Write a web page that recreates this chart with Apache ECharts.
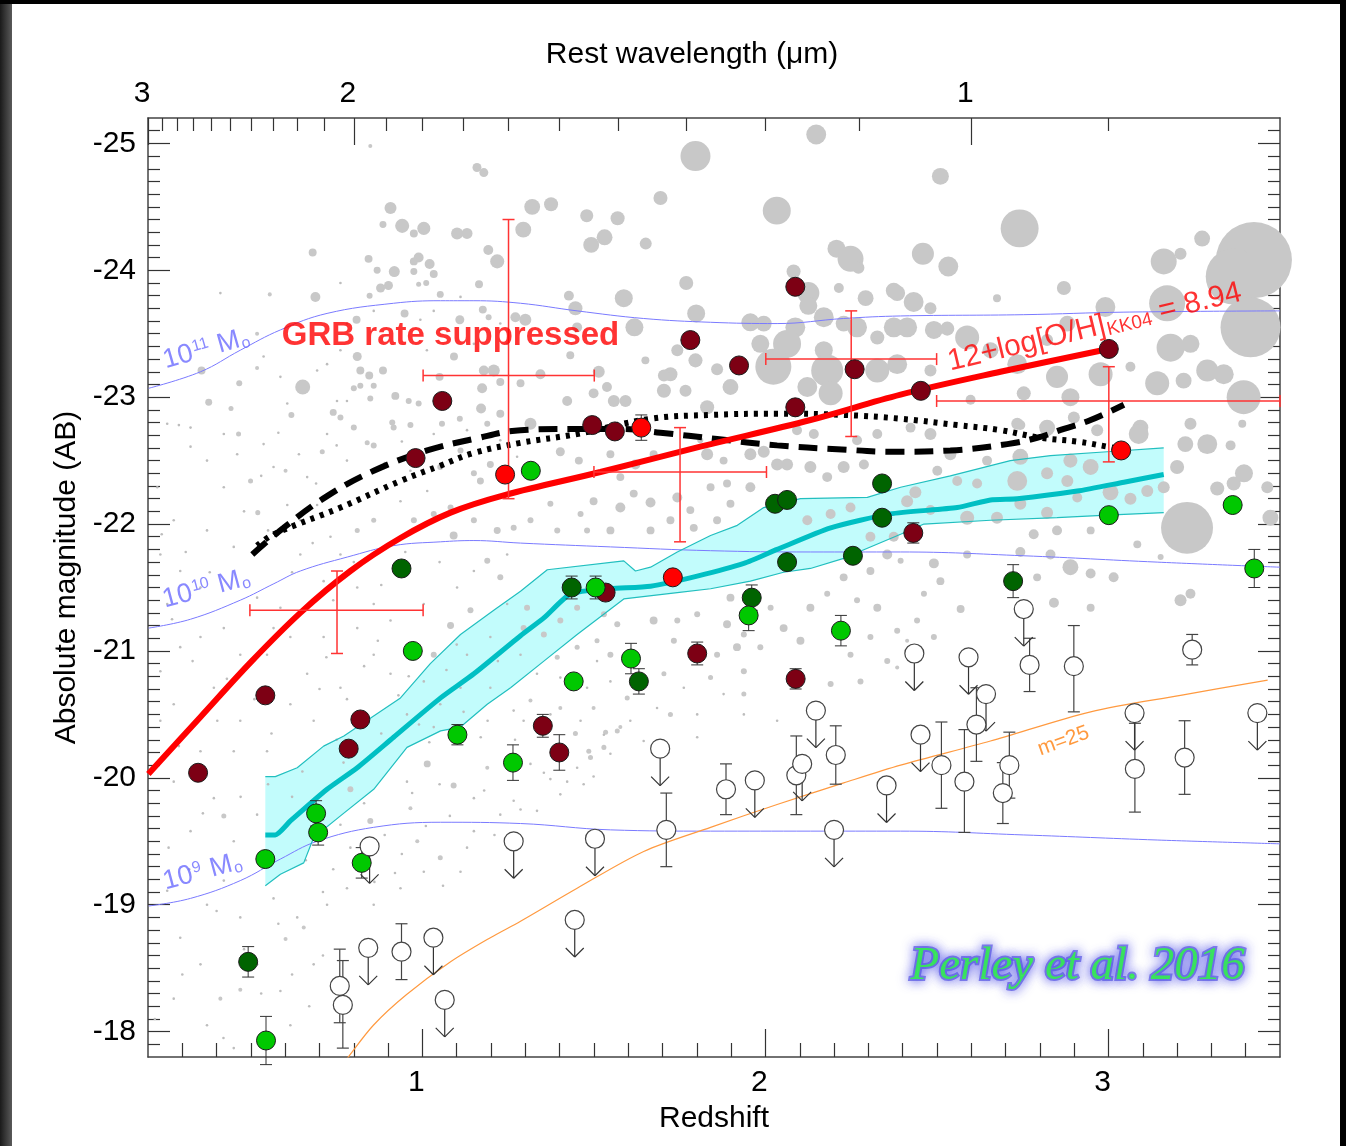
<!DOCTYPE html>
<html>
<head>
<meta charset="utf-8">
<script src="https://cdn.jsdelivr.net/npm/echarts@6/dist/echarts.min.js"></script>
<style>
html,body{margin:0;padding:0;background:#000;width:1346px;height:1146px;overflow:hidden}
#panel{position:absolute;left:12px;top:4px;width:1328px;height:1142px;background:#fff}
#edge{position:absolute;left:0;top:4px;width:12px;height:1142px;background:linear-gradient(to right,#1a1a1a,#5a5a5a)}
#chart{position:absolute;left:0;top:0;width:1346px;height:1146px}
</style>
</head>
<body>
<div id="panel"></div><div id="edge"></div><div id="chart"></div>
<script>
// ---- axes ----
const zRange = [0.2, 3.5];
const magRange = [-25.2, -17.8];
const redshiftTicks = [1, 2, 3];
const redshiftMinorTicks = [0.3,0.4,0.5,0.6,0.7,0.8,0.9,1.1,1.2,1.3,1.4,1.5,1.6,1.7,1.8,1.9,2.1,2.2,2.3,2.4,2.5,2.6,2.7,2.8,2.9,3.1,3.2,3.3,3.4];
const magTicks = [-25, -24, -23, -22, -21, -20, -19, -18];
const observedWavelength = 3.6; // micron, observed band
const restWavelengthTicks = [3, 2, 1];
const restWavelengthMinorTicks = [2.9,2.8,2.7,2.6,2.5,2.4,2.3,2.2,2.1,1.9,1.8,1.7,1.6,1.5,1.4,1.3,1.2,1.1,0.9];

// ---- GRB hosts: [redshift, abs mag, mag error] ----
const hostsDarkRed = [[0.346,-20.04,0],[0.542,-20.65,0],[0.819,-20.46,0],[0.785,-20.23,0],[0.980,-22.52,0],[1.058,-22.97,0],[1.495,-22.78,0],[1.561,-22.73,0],[1.781,-23.45,0],[1.923,-23.25,0],[2.087,-23.87,0],[2.260,-23.22,0],[2.087,-22.92,0],[3.001,-23.38,0],[2.453,-23.05,0],[1.534,-21.46,0],[1.801,-20.98,0.09],[2.088,-20.78,0.08],[1.351,-20.41,0.09],[2.431,-21.93,0.08],[1.399,-20.20,0.14]];
const hostsRed = [[1.241,-22.39,0],[1.638,-22.76,0.1],[1.730,-21.58,0],[3.037,-22.58,0]];
const hostsDarkGreen = [[0.939,-21.65,0],[1.435,-21.50,0.09],[1.960,-21.42,0.1],[2.028,-22.16,0],[2.063,-22.19,0],[2.063,-21.70,0],[2.340,-22.32,0],[2.340,-22.05,0],[2.255,-21.75,0],[1.631,-20.76,0.1],[2.722,-21.55,0.13],[0.492,-18.55,0.12]];
const hostsGreen = [[1.316,-22.42,0],[1.505,-21.50,0.09],[1.951,-21.28,0.12],[2.220,-21.16,0.12],[1.608,-20.94,0.12],[1.441,-20.76,0],[0.972,-21.00,0],[1.102,-20.34,0.08],[1.264,-20.12,0.14],[3.001,-22.07,0],[3.362,-22.15,0],[3.425,-21.65,0.15],[0.542,-19.36,0],[0.690,-19.72,0.1],[0.696,-19.57,0.1],[0.823,-19.33,0.12],[0.544,-17.93,0.19]];
// faint hosts: detections [z, mag, err bright, err faint] and upper limits [z, mag]
const hostsOpen = [[0.759,-18.36,0.29,0.29],[0.768,-18.21,0.35,0.34],[0.939,-18.63,0.22,0.22],[1.711,-19.59,0.29,0.29],[1.885,-19.91,0.2,0.2],[2.090,-20.02,0.31,0.31],[2.205,-20.18,0.23,0.23],[2.513,-20.10,0.34,0.34],[2.580,-19.97,0.41,0.40],[2.711,-20.10,0.26,0.26],[2.692,-19.88,0.24,0.24],[2.770,-20.89,0.21,0.21],[2.899,-20.88,0.32,0.36],[3.244,-21.01,0.12,0.12],[3.077,-20.07,0.36,0.34],[3.222,-20.16,0.29,0.29],[2.615,-20.42,0.29,0.29]];
const hostsLimits = [[0.846,-19.46],[0.842,-18.66],[1.032,-18.74],[1.065,-18.25],[1.266,-19.50],[1.693,-20.23],[1.503,-19.52],[1.444,-18.88],[1.969,-19.98],[2.107,-20.11],[2.147,-20.53],[2.353,-19.94],[2.200,-19.59],[2.753,-21.33],[2.434,-20.98],[2.592,-20.95],[2.643,-20.66],[2.452,-20.34],[3.076,-20.51],[3.434,-20.51]];
// binned medians: [z, zlo, zhi, mag, maglo, maghi]
const binnedCrosses = [[0.751,0.497,1.002,-21.32,-21.63,-20.98],[1.251,1.002,1.501,-23.17,-24.40,-22.20],[1.751,1.500,2.003,-22.41,-22.76,-21.86],[2.250,2.001,2.499,-23.30,-23.68,-22.69],[3.001,2.499,3.500,-22.97,-23.24,-22.49]];

// ---- model curves: [z, mag] ----
const metallicityCut = [[0.201,-20.03],[0.353,-20.48],[0.499,-20.91],[0.644,-21.30],[0.790,-21.63],[0.936,-21.89],[1.082,-22.09],[1.242,-22.23],[1.519,-22.41],[1.810,-22.61],[2.131,-22.82],[2.394,-23.02],[2.685,-23.20],[3.000,-23.38]];
const modelDashed = [[0.504,-21.76],[0.595,-21.97],[0.722,-22.22],[0.858,-22.42],[1.014,-22.58],[1.149,-22.67],[1.286,-22.74],[1.432,-22.75],[1.577,-22.75],[1.694,-22.72],[1.859,-22.67],[2.034,-22.62],[2.209,-22.59],[2.374,-22.57],[2.539,-22.58],[2.705,-22.63],[2.792,-22.68],[2.870,-22.75],[2.948,-22.82],[3.045,-22.94]];
const modelDotted = [[0.518,-21.83],[0.567,-21.92],[0.761,-22.13],[0.936,-22.34],[1.052,-22.46],[1.149,-22.56],[1.286,-22.64],[1.451,-22.71],[1.665,-22.83],[1.840,-22.86],[2.034,-22.87],[2.228,-22.86],[2.394,-22.83],[2.559,-22.78],[2.685,-22.74],[2.802,-22.68],[2.909,-22.65],[2.996,-22.61],[3.055,-22.58]];
const fieldMedian = [[0.542,-19.55],[0.571,-19.55],[0.615,-19.66],[0.722,-19.91],[0.810,-20.08],[0.916,-20.32],[1.053,-20.63],[1.150,-20.82],[1.286,-21.12],[1.354,-21.26],[1.432,-21.45],[1.548,-21.49],[1.665,-21.51],[1.801,-21.59],[1.937,-21.69],[2.034,-21.80],[2.190,-21.97],[2.364,-22.08],[2.559,-22.13],[2.656,-22.19],[2.734,-22.20],[2.909,-22.26],[3.045,-22.33],[3.161,-22.39]];
const fieldUpper = [[0.542,-20.01],[0.571,-20.01],[0.635,-20.08],[0.712,-20.25],[0.771,-20.33],[0.936,-20.63],[1.023,-20.90],[1.111,-21.13],[1.208,-21.32],[1.286,-21.47],[1.364,-21.64],[1.587,-21.71],[1.621,-21.63],[1.665,-21.66],[1.743,-21.78],[1.840,-21.91],[1.918,-21.99],[1.995,-22.13],[2.102,-22.20],[2.297,-22.21],[2.394,-22.29],[2.539,-22.38],[2.714,-22.50],[2.831,-22.54],[2.996,-22.57],[3.161,-22.60]];
const fieldLower = [[0.542,-19.15],[0.586,-19.24],[0.654,-19.33],[0.683,-19.53],[0.761,-19.70],[0.858,-19.91],[0.955,-20.24],[1.053,-20.37],[1.111,-20.40],[1.189,-20.58],[1.257,-20.71],[1.354,-20.92],[1.451,-21.13],[1.587,-21.41],[1.743,-21.46],[1.840,-21.49],[1.956,-21.55],[2.053,-21.62],[2.131,-21.65],[2.228,-21.73],[2.394,-21.92],[2.462,-22.00],[2.656,-22.03],[2.850,-22.05],[2.996,-22.07],[3.161,-22.09]];
const mass1e11 = [[0.202,-23.07],[0.353,-23.20],[0.469,-23.37],[0.586,-23.53],[0.722,-23.66],[0.916,-23.74],[1.053,-23.76],[1.150,-23.76],[1.286,-23.74],[1.451,-23.68],[1.645,-23.62],[1.840,-23.59],[2.034,-23.58],[2.228,-23.62],[2.394,-23.64],[2.753,-23.65],[3.045,-23.67],[3.500,-23.68]];
const mass1e10 = [[0.202,-21.18],[0.324,-21.25],[0.469,-21.40],[0.567,-21.53],[0.644,-21.63],[0.781,-21.74],[0.916,-21.83],[1.053,-21.86],[1.150,-21.87],[1.286,-21.85],[1.548,-21.82],[1.840,-21.79],[2.131,-21.78],[2.394,-21.78],[2.753,-21.75],[3.142,-21.70],[3.500,-21.66]];
const mass1e9 = [[0.202,-18.99],[0.324,-19.05],[0.469,-19.19],[0.586,-19.36],[0.693,-19.50],[0.858,-19.61],[1.053,-19.65],[1.286,-19.64],[1.548,-19.59],[1.840,-19.58],[2.131,-19.58],[2.394,-19.58],[2.753,-19.55],[3.142,-19.51],[3.500,-19.48]];
const apparentLimit = [[0.761,-17.72],[0.781,-17.79],[0.857,-18.05],[0.953,-18.29],[1.082,-18.55],[1.198,-18.74],[1.286,-18.87],[1.451,-19.13],[1.645,-19.42],[1.840,-19.61],[2.034,-19.79],[2.228,-19.96],[2.394,-20.10],[2.656,-20.29],[2.948,-20.52],[3.210,-20.65],[3.464,-20.77]];

// ---- field galaxies: [z, mag, sfr weight] and faint field [z, mag] ----
const fieldBright = [
[1.796,-24.90,100],[2.148,-25.07,44],[2.033,-24.47,87],[1.694,-24.57,22],[1.320,-24.50,28],[1.375,-24.52,22],[1.294,-24.32,28],[1.479,-24.43,19],[1.569,-24.41,22],[1.531,-24.26,28],[1.492,-24.20,28],[1.651,-24.21,16],[2.207,-24.17,36],[2.248,-24.09,75],[2.271,-24.02,16],[2.082,-23.99,22],[2.214,-23.86,11],[2.374,-23.84,28],[2.292,-23.78,28],[2.125,-23.82,54],[2.125,-23.72,36],[1.769,-23.90,22],[1.587,-23.78,36],[1.446,-23.70,22],[1.798,-23.66,36],[1.618,-23.55,36],[1.427,-23.80,11],[1.956,-23.59,36],[1.995,-23.58,28],[2.087,-23.55,44],[2.063,-23.42,87],[2.170,-23.63,44],[2.228,-23.58,28],[2.267,-23.55,44],[2.326,-23.47,22],[2.374,-23.55,44],[1.985,-23.42,36],[2.023,-23.24,144],[2.170,-23.37,36],[2.180,-23.21,114],[2.190,-23.03,64],[2.326,-23.21,64],[2.122,-23.08,44],[1.898,-23.08,28],[1.859,-23.22,16],[1.796,-23.29,22],[1.743,-23.37,16],[1.723,-23.18,22],[1.704,-23.05,22],[1.767,-23.05,16],[1.830,-22.92,22],[1.271,-23.63,11],[1.300,-23.61,16],[1.451,-23.55,11],[1.344,-23.18,11],[1.286,-23.11,7],[1.422,-22.97,11],[1.499,-23.03,11],[1.538,-23.08,11],[1.558,-22.97,16],[1.592,-22.97,16],[1.514,-23.20,16],[1.315,-22.79,16],[1.704,-23.17,16],[1.650,-23.29,7],[1.431,-23.33,7],
[2.510,-24.74,32],[2.741,-24.33,160],[2.459,-24.13,54],[2.533,-24.03,44],[2.870,-23.86,22],[2.675,-23.78,7],[3.273,-24.25,28],[3.161,-24.07,75],[3.424,-24.08,642],[3.365,-23.95,348],[3.414,-23.55,400],[3.394,-23.00,128],[3.210,-24.13,16],[2.991,-23.71,44],[3.171,-23.74,144],[2.384,-23.82,28],[2.432,-23.75,44],[2.481,-23.70,16],[2.588,-23.47,64],[2.491,-23.53,36],[2.530,-23.54,22],[2.413,-23.55,44],[2.656,-23.37,28],[2.734,-23.26,44],[2.821,-23.45,16],[2.880,-23.58,28],[2.977,-23.18,64],[2.850,-23.16,54],[3.064,-23.24,11],[3.181,-23.39,87],[3.239,-23.42,36],[3.288,-23.21,54],[3.142,-23.11,64],[3.219,-23.13,28],[3.336,-23.18,44],[2.889,-23.00,36],[2.753,-23.03,22],[2.598,-22.98,11],[2.481,-23.21,16],[2.384,-23.26,44],[2.899,-22.84,16],[2.821,-22.76,28],[2.734,-22.79,16],[3.093,-22.76,28],[3.239,-22.79,16],
[1.159,-24.81,9],[1.179,-24.77,9],[0.907,-24.49,16],[0.885,-24.36,5.4],[0.941,-24.35,22],[1.004,-24.33,19],[0.975,-24.29,7],[1.101,-24.29,16],[1.130,-24.29,13.4],[0.680,-24.14,7],[0.843,-24.09,7],[0.989,-24.10,11],[1.021,-24.05,11],[1.033,-23.97,7],[0.975,-24.07,7],[1.192,-24.16,11],[1.218,-24.07,22],[0.868,-24.00,5.4],[0.918,-23.99,13.4],[0.878,-23.86,9],[0.901,-23.88,9],[1.165,-23.89,7],[0.688,-23.79,11],[1.052,-23.81,5.4],[1.176,-23.69,7],[0.948,-23.66,7],[1.109,-23.61,9],[0.808,-23.61,7],[0.356,-23.21,7],[0.377,-22.96,5.4],[0.651,-23.08,25],[0.810,-23.32,9],[0.819,-23.21,7],[0.845,-23.17,7],[0.885,-23.21,7],[0.921,-23.01,7],[1.050,-23.16,7],[1.092,-23.32,7],[1.179,-23.21,11],[1.208,-23.21,16],[1.174,-23.07,11],[1.227,-23.12,7],[1.171,-22.91,11],[1.227,-22.87,7],[0.740,-22.88,5.4],[1.057,-22.79,4],[1.109,-22.83,4],[1.189,-22.79,4],[0.912,-22.80,4],[0.965,-22.78,4],
[0.848,-24.98,1.8],[0.800,-23.07,4],[0.819,-23.09,4],[0.858,-23.09,4],[0.848,-22.99,4],[0.960,-22.97,4],[0.989,-22.95,4],[0.618,-22.86,4],[0.761,-22.84,4],[0.442,-22.91,2.8],[0.466,-23.11,4],[0.518,-23.50,1.8],[0.555,-23.81,1.8],[0.518,-23.23,1.8],[0.846,-23.80,4],[0.989,-23.89,2.8],[1.011,-23.90,4],[0.975,-23.99,5.4],[0.800,-22.76,4],[1.193,-23.63,4],
[0.464,-22.71,2.8],[0.601,-22.42,1.8],[0.499,-22.34,2.8],[0.520,-22.09,2.8],[0.858,-22.62,4],[0.916,-22.76,4],[1.169,-22.34,5.4],[1.198,-22.47,5.4],[1.150,-22.03,4],[1.091,-21.91,7],[1.218,-21.95,5.4],[1.082,-22.13,4],[1.033,-22.08,4],[0.975,-22.03,4],[0.858,-22.03,2.8],[0.810,-21.95,2.8],[1.052,-22.45,4],[1.111,-22.58,4],[1.150,-22.40,4],[0.708,-22.57,2.8],[0.839,-22.64,2.8],[1.082,-21.20,5.4],[1.033,-20.97,4],[1.140,-21.32,4],[1.189,-21.71,4],[1.227,-21.58,4],[1.266,-21.97,4],
[1.402,-22.57,9],[1.456,-22.50,7],[1.548,-22.55,7],[1.621,-22.47,11],[1.577,-22.37,7],[1.674,-22.55,7],[1.830,-22.55,16],[1.878,-22.50,7],[1.956,-22.55,16],[1.995,-22.57,16],[2.034,-22.47,16],[2.063,-22.47,16],[2.131,-22.45,16],[2.180,-22.37,11],[2.228,-22.45,16],[2.287,-22.47,11],[2.326,-22.71,11],[2.267,-22.66,11],[2.141,-22.71,11],[2.092,-22.74,11],[1.810,-22.66,4],[1.665,-22.17,11],[1.743,-22.21,11],[1.781,-22.11,7],[1.840,-22.29,7],[1.888,-22.32,7],[1.956,-22.29,11],[1.898,-22.16,7],[1.859,-22.03,7],[1.791,-21.97,7],[1.723,-22.03,7],[1.665,-21.95,7],[1.616,-22.24,7],[1.577,-22.13,11],[1.499,-22.18,7],[1.461,-22.08,4],[1.373,-22.16,4],[1.315,-22.03,4],[1.393,-21.95,4],[1.548,-21.95,7],[1.480,-21.95,4],[2.122,-22.03,11],[2.190,-22.08,11],[2.248,-22.13,11],[2.306,-21.90,11],[2.374,-21.90,11],[2.355,-21.76,11],[2.228,-21.58,7],[2.306,-21.63,7],[2.131,-21.34,7],[2.180,-21.45,4],[2.267,-21.40,4],[2.326,-21.34,7],[2.015,-21.34,4],[2.053,-21.18,7],[2.102,-21.08,7],[1.985,-21.03,4],[1.917,-21.03,7],[1.937,-21.13,4],[1.888,-21.21,7],[1.898,-21.42,7],[1.801,-21.29,4],[1.743,-21.24,4],[1.674,-21.24,7],[1.568,-21.21,4],[1.529,-21.29,4],[1.451,-21.34,4],[1.402,-21.24,4],[1.354,-21.13,4],[1.305,-21.34,4],[1.295,-21.18,4],[1.733,-21.08,4],[1.859,-20.97,4],[1.937,-20.84,4],[2.248,-20.97,4],[2.306,-21.11,4],[2.355,-20.92,4],[2.190,-20.74,4],[2.277,-20.76,4],[1.548,-20.97,4],[1.509,-21.08,2.8],[1.451,-21.03,2.8],[1.393,-20.95,2.8],[1.704,-20.82,2.8],[1.840,-20.79,2.8],[1.937,-20.66,2.8],[1.597,-20.63,2.8],[1.723,-20.50,2.8],[1.499,-20.55,1.8],[1.402,-20.55,1.8],[1.315,-20.61,1.8],[1.577,-20.40,1.8],
[3.229,-21.97,300],[3.288,-22.63,44],[3.224,-22.63,28],[3.200,-22.45,22],[3.317,-22.28,22],[3.365,-22.32,22],[3.395,-22.40,36],[3.472,-22.05,28],[3.463,-22.29,16],[3.390,-22.79,7],[3.356,-22.62,11],[3.210,-21.40,16],[3.239,-21.45,11],[3.152,-21.74,4],[3.088,-22.71,44],[2.967,-22.74,16],[2.821,-22.74,16],[2.743,-22.78,11],[2.423,-22.76,11],[2.481,-22.71,16],[2.539,-22.55,16],[2.646,-22.50,11],[2.743,-22.53,28],[2.821,-22.40,16],[2.889,-22.50,22],[2.948,-22.45,28],[2.880,-22.34,16],[2.909,-22.21,11],[3.006,-22.25,28],[3.064,-22.20,16],[3.113,-22.26,16],[3.161,-22.29,16],[2.821,-22.09,16],[2.743,-22.16,16],[2.734,-22.34,44],[2.617,-22.32,11],[2.559,-22.34,11],[2.588,-22.05,22],[2.481,-22.11,11],[2.437,-22.25,16],[2.413,-22.18,16],[2.501,-22.42,11],[2.675,-22.05,16],[2.782,-21.92,11],[2.850,-21.95,11],[2.948,-21.95,7],[2.743,-21.78,11],[2.831,-21.76,11],[2.889,-21.66,28],[2.948,-21.61,11],[3.015,-21.58,11],[2.792,-21.58,7],[2.588,-21.76,7],[2.491,-21.69,11],[2.510,-21.55,7],[2.394,-21.71,4],[2.462,-21.45,4],[2.569,-21.33,7],[2.841,-21.38,11],[2.948,-21.34,7],[3.084,-21.84,7],[2.384,-21.16,4],[2.413,-21.08,1.8],[2.491,-21.11,4],[2.442,-21.24,4],[2.384,-20.87,1.8],
[0.421,-19.70,2.8],[0.601,-18.73,1.8],[0.411,-18.26,1.8],[0.469,-18.33,1.8],[0.790,-19.91,4],[0.848,-19.66,4],[0.965,-19.76,1.8],[1.014,-20.11,5.4],[1.091,-19.94,4],[1.189,-20.08,1.8],[0.985,-19.50,1.8],[1.052,-19.37,2.8],[0.654,-18.82,1.8],
[1.485,-20.21,2.8],[1.490,-20.16,2.8],[1.529,-20.24,2.8],[1.446,-20.35,2.8],[1.534,-20.36,2.8],[1.568,-20.37,2.8]
];
const fieldFaint = [
[0.324,-22.61],[0.372,-22.50],[0.421,-22.29],[0.275,-22.03],[0.372,-21.95],[0.450,-21.82],[0.294,-21.63],[0.353,-21.50],[0.421,-21.18],[0.294,-21.03],[0.469,-20.97],[0.392,-20.71],[0.275,-20.58],[0.469,-20.45],[0.615,-20.58],[0.664,-20.82],[0.615,-21.11],[0.566,-21.18],[0.712,-21.11],[0.810,-21.18],[0.858,-20.97],[0.761,-20.71],[0.683,-20.45],[0.839,-20.50],[0.907,-20.82],[1.004,-20.76],[1.052,-20.58],[0.955,-20.50],[0.858,-21.37],[0.907,-21.24],[0.810,-21.50],[0.712,-21.55],[0.644,-21.76],[0.761,-21.76],[0.858,-21.76],[1.004,-21.37],[1.101,-21.50],[1.150,-21.63],[1.247,-21.76],[1.198,-21.11],[1.247,-21.37],[1.130,-20.97],[1.198,-20.71],[1.266,-20.53],[1.111,-20.71],[1.033,-20.40],[0.227,-22.29],[0.236,-21.76],[0.256,-21.37],[0.236,-20.84],[0.236,-20.45],[0.353,-21.11],[0.518,-21.42],[0.586,-21.34],[0.547,-20.97],[0.402,-20.45],[0.566,-22.45],[0.664,-22.37],[0.722,-22.71],[0.537,-22.63],[0.421,-22.71],[0.324,-22.76],
[0.275,-19.97],[0.324,-19.58],[0.256,-19.11],[0.372,-19.00],[0.469,-18.90],[0.294,-18.74],[0.353,-18.53],[0.275,-18.26],[0.372,-18.05],[0.450,-17.87],[0.518,-18.53],[0.586,-18.32],[0.615,-18.05],[0.683,-18.53],[0.566,-19.05],[0.635,-18.90],[0.722,-19.00],[0.780,-19.13],[0.858,-19.00],[0.936,-19.13],[0.421,-19.19],[0.450,-19.50],[0.518,-19.71],[0.392,-19.84],[0.353,-20.21],[0.450,-20.21],[0.547,-20.21],[0.955,-19.97],[1.150,-19.84],[1.227,-19.71],[1.150,-19.58],[1.111,-19.26],[1.004,-19.26],[0.761,-19.63],
[1.286,-20.97],[1.334,-20.82],[1.402,-20.79],[1.480,-20.71],[1.548,-20.76],[1.509,-20.92],[1.373,-20.50],[1.461,-20.45],[1.529,-20.34],[1.295,-20.45],[1.645,-20.71],[1.684,-20.55],[1.762,-20.71],[1.801,-20.50],[1.878,-20.66],[1.937,-20.50],[2.034,-20.45],[1.606,-20.45],
[1.315,-20.11],[1.354,-20.04],[1.451,-20.08],[1.548,-20.19],[1.373,-19.99],[1.422,-19.97],[1.470,-19.95],[1.499,-20.01],[1.402,-19.87],[1.334,-19.74],[1.286,-19.75],[1.801,-20.32],[1.645,-20.29],[1.266,-19.82],
[0.411,-23.82],[0.290,-22.78],[0.256,-22.79],[0.751,-22.97],[0.780,-22.97],[0.606,-22.95],[0.537,-23.32],[0.586,-23.16],[0.693,-23.21],[0.722,-23.26],[0.761,-23.37],[0.780,-23.58],[0.858,-23.68],[0.761,-23.90],[1.033,-23.68],[1.052,-23.53],[1.013,-23.37],[1.150,-23.42],[1.247,-23.42],[1.227,-23.58],[1.111,-23.79],[0.994,-23.61],
[1.033,-22.71],[1.130,-22.74],[1.227,-22.66],[1.276,-22.53],[1.014,-22.26],[0.965,-22.42],[0.936,-22.18],[0.780,-22.50],[0.693,-22.15],[0.644,-22.03],[0.606,-22.15],[0.732,-21.90],
[0.72,-20.95],[0.78,-20.62],[0.83,-20.88],[0.88,-20.35],[0.93,-20.65],[0.98,-20.98],[1.02,-20.28],[1.07,-20.85],[1.12,-20.52],[1.17,-20.32],[1.22,-20.92],[1.27,-20.30],[0.75,-20.30],[0.87,-21.08],[0.99,-20.42],[1.10,-21.05],[1.19,-20.45],[0.70,-20.70],[0.81,-20.25],[0.96,-20.80],
[0.62,-19.85],[0.66,-19.35],[0.74,-19.28],[0.79,-19.45],[0.83,-19.80],[0.89,-19.55],[0.92,-19.25],[0.97,-19.88],[1.01,-19.62],[1.05,-19.95],[1.08,-19.70],[1.13,-19.45],[1.18,-19.90],[1.21,-19.55],[0.71,-19.10],[0.86,-19.18],[0.94,-19.40],[1.06,-19.15],[0.65,-20.05],[0.77,-20.12],
[0.24,-21.92],[0.31,-21.78],[0.38,-21.62],[0.27,-21.25],[0.33,-20.92],[0.43,-20.78],[0.51,-20.62],[0.56,-20.35],[0.29,-20.25],[0.36,-19.72],[0.47,-19.85],[0.55,-19.95],[0.26,-19.45],[0.32,-19.28],[0.40,-18.95],[0.48,-18.65],[0.53,-18.30],[0.58,-18.85],[0.30,-18.45],[0.22,-18.10],[0.42,-17.95],[0.62,-18.45],[0.67,-18.20],[0.71,-18.60],
[0.46,-22.55],[0.53,-22.38],[0.58,-22.72],[0.64,-22.55],[0.69,-22.32],[0.75,-22.62],[0.82,-22.38],[0.89,-22.48],[0.94,-22.65],[0.48,-22.10],[0.55,-21.95],[0.62,-21.62],[0.68,-21.85],[0.74,-21.40],[0.80,-21.70],[0.88,-21.52],[0.95,-21.78],[1.05,-21.70]
];

// ---- annotations: [z, mag] anchor of each label ----
const noteMass11 = [0.370, -23.38];
const noteMass10 = [0.370, -21.49];
const noteMass9 = [0.359, -19.26];
const noteSuppressed = [1.082, -23.48];
const noteMetallicity = [2.960, -23.55];
const noteApparent = [2.869, -20.29];
const noteCredit = [2.910, -18.51];

// ---------------------------------------------------------------
const FONT = '"Liberation Sans", Arial, Helvetica, sans-serif';
const axisText = { color: '#000', fontSize: 30, fontFamily: FONT };
const frameLine = { show: true, onZero: false, lineStyle: { color: '#444', width: 1.5 } };
const tickLine = { color: '#333', width: 1.2 };
const zAt = (lam) => Math.round((observedWavelength / lam - 1) * 1e9) / 1e9;

function xAx(o) { return Object.assign({ type: 'value', min: zRange[0], max: zRange[1], splitLine: { show: false }, axisLine: { show: false } }, o); }
function yAx(o) { return Object.assign({ type: 'value', inverse: true, min: magRange[0], max: magRange[1], splitLine: { show: false }, axisLine: { show: false } }, o); }

const magMinor = [];
for (let k = -251; k <= -179; k++) { if (k % 10 !== 0) magMinor.push(k / 10); }

const xAxes = [
  xAx({ position: 'bottom', axisLine: frameLine,
        axisTick: { show: true, inside: true, length: 28, customValues: redshiftTicks, lineStyle: tickLine },
        axisLabel: Object.assign({ show: true, margin: 11, padding: [0, 12, 0, 0], customValues: redshiftTicks, formatter: v => String(v) }, axisText),
        name: 'Redshift', nameLocation: 'middle', nameGap: 47, nameTextStyle: axisText }),
  xAx({ position: 'bottom', axisTick: { show: true, inside: true, length: 14, customValues: redshiftMinorTicks, lineStyle: tickLine }, axisLabel: { show: false } }),
  xAx({ position: 'top', axisLine: frameLine,
        axisTick: { show: true, inside: true, length: 27, customValues: restWavelengthTicks.map(zAt), lineStyle: tickLine },
        axisLabel: Object.assign({ show: true, margin: 9, padding: [0, 12, 0, 0], showMinLabel: true, customValues: restWavelengthTicks.map(zAt), formatter: v => String(Math.round(observedWavelength / (1 + v))) }, axisText),
        name: 'Rest wavelength (\u03bcm)', nameLocation: 'middle', nameGap: 48, nameTextStyle: Object.assign({ padding: [0, 44, 0, 0] }, axisText) }),
  xAx({ position: 'top', axisTick: { show: true, inside: true, length: 13, customValues: restWavelengthMinorTicks.map(zAt), lineStyle: tickLine }, axisLabel: { show: false } })
];
const yAxes = [
  yAx({ position: 'left', axisLine: frameLine,
        axisTick: { show: true, inside: true, length: 22, customValues: magTicks, lineStyle: tickLine },
        axisLabel: Object.assign({ show: true, margin: 12, customValues: magTicks, formatter: v => String(v) }, axisText),
        name: 'Absolute magnitude (AB)', nameLocation: 'middle', nameRotate: 90, nameGap: 66, nameTextStyle: Object.assign({ padding: [0, 0, 0, 20] }, axisText) }),
  yAx({ position: 'left', axisTick: { show: true, inside: true, length: 12, customValues: magMinor, lineStyle: tickLine }, axisLabel: { show: false } }),
  yAx({ position: 'right', axisLine: frameLine, axisTick: { show: true, inside: true, length: 22, customValues: magTicks, lineStyle: tickLine }, axisLabel: { show: false } }),
  yAx({ position: 'right', axisTick: { show: true, inside: true, length: 12, customValues: magMinor, lineStyle: tickLine }, axisLabel: { show: false } })
];

function seg(x1, y1, x2, y2, color, w) {
  return { type: 'line', shape: { x1, y1, x2, y2 }, style: { stroke: color, lineWidth: w } };
}

// vertical error bar with caps
function errBar(api, z, up, down, color, w, cap) {
  const t = api.coord([z, up]), b = api.coord([z, down]);
  return [seg(t[0], t[1], b[0], b[1], color, w), seg(t[0] - cap, t[1], t[0] + cap, t[1], color, w), seg(b[0] - cap, b[1], b[0] + cap, b[1], color, w)];
}

function line(data, color, width, extra) {
  return Object.assign({ type: 'line', data, showSymbol: false, symbol: 'none', silent: true, animation: false,
    lineStyle: { color, width }, xAxisIndex: 0, yAxisIndex: 0 }, extra || {});
}

function hosts(data, color) {
  return { type: 'scatter', data, symbolSize: 19, silent: true, z: 8,
    itemStyle: { color, opacity: 1, borderColor: '#1a1a1a', borderWidth: 1 } };
}

const blueText = '#6b6bff';
function massNote(pos, exp, rot) {
  return { value: pos, label: { show: true, position: 'inside', rotate: rot,
    formatter: '{n|10}{s|' + exp + '}{n| M}{o|o}',
    rich: { n: { fontSize: 27, color: blueText, fontFamily: FONT },
            s: { fontSize: 16, color: blueText, fontFamily: FONT, verticalAlign: 'top', padding: [0, 1, 10, 1] },
            o: { fontSize: 16, color: blueText, fontFamily: FONT, verticalAlign: 'bottom', padding: [7, 0, 0, 1] } } } };
}

const notes = [
  massNote(noteMass11, '11', 16),
  massNote(noteMass10, '10', 15),
  massNote(noteMass9, '9', 15),
  { value: noteSuppressed, label: { show: true, position: 'inside', formatter: 'GRB rate suppressed',
    color: '#ff0000', fontSize: 33, fontWeight: 'bold', fontFamily: FONT } },
  { value: noteMetallicity, label: { show: true, position: 'inside', rotate: 13.5,
    formatter: '{t|12+log[O/H]}{k|KK04}{t| = 8.94}',
    rich: { t: { fontSize: 30, color: '#ff0000', fontFamily: FONT },
            k: { fontSize: 19, color: '#ff0000', fontFamily: FONT, verticalAlign: 'bottom', padding: [11, 0, 0, 1] } } } },
  { value: noteApparent, label: { show: true, position: 'inside', rotate: 20, formatter: 'm=25',
    color: '#ff7f0e', fontSize: 21, fontFamily: FONT } },
  { value: noteCredit, label: { show: true, position: 'inside', formatter: 'Perley et al. 2016',
    color: '#2cff3c', fontSize: 47, fontStyle: 'italic', fontFamily: '"Liberation Serif", "Times New Roman", serif',
    textBorderColor: 'rgba(85,85,225,0.85)', textBorderWidth: 4, textShadowColor: '#4a4ae6', textShadowBlur: 12 } }
];

const series = [
  // scatter band of field galaxies
  { type: 'custom', z: 1, silent: true, data: [fieldMedian[0]], clip: true,
    renderItem: function (params, api) {
      const pts = fieldUpper.map(p => api.coord(p));
      for (let i = fieldLower.length - 1; i >= 0; i--) pts.push(api.coord(fieldLower[i]));
      return { type: 'polygon', shape: { points: pts }, style: { fill: '#c2fcfc' } };
    } },
  { type: 'scatter', data: fieldBright, z: 2, silent: true, symbolSize: v => 3 * Math.sqrt(v[2]), itemStyle: { color: '#c8c8c8', opacity: 1 } },
  { type: 'scatter', data: fieldFaint, z: 2, silent: true, symbolSize: 2.6, itemStyle: { color: '#bdbdbd', opacity: 1 } },
  line(mass1e11, '#7a7aff', 1, { z: 3, smooth: 0.4 }),
  line(mass1e10, '#7a7aff', 1, { z: 3, smooth: 0.4 }),
  line(mass1e9, '#7a7aff', 1, { z: 3, smooth: 0.4 }),
  line(apparentLimit, '#ff9a40', 1.2, { z: 3, smooth: 0.3 }),
  line(fieldUpper, '#22bfbf', 1.2, { z: 4 }),
  line(fieldLower, '#22bfbf', 1.2, { z: 4 }),
  line(fieldMedian, '#00bfc3', 5, { z: 4, smooth: 0.2 }),
  line(modelDashed, '#000', 6, { z: 5, smooth: 0.4, lineStyle: { color: '#000', width: 6, type: [19, 10], cap: 'butt' } }),
  line(modelDotted, '#000', 6, { z: 5, smooth: 0.4, lineStyle: { color: '#000', width: 6, type: [4, 6], cap: 'butt' } }),
  line(metallicityCut, '#ff0000', 6, { z: 5, smooth: 0.35 }),
  // binned red crosses
  { type: 'custom', z: 6, silent: true, data: binnedCrosses, encode: { x: [0, 1, 2], y: [3, 4, 5] },
    renderItem: function (params, api) {
      const z = api.value(0), zl = api.value(1), zh = api.value(2), m = api.value(3), ml = api.value(4), mh = api.value(5);
      const L = api.coord([zl, m]), R = api.coord([zh, m]);
      const c = '#ff3333', w = 1.5, k = 6;
      return { type: 'group', children: [
        seg(L[0], L[1], R[0], R[1], c, w), seg(L[0], L[1] - k, L[0], L[1] + k, c, w), seg(R[0], R[1] - k, R[0], R[1] + k, c, w)
      ].concat(errBar(api, z, ml, mh, c, w, k)) };
    } },
  // error bars of coloured hosts
  { type: 'custom', z: 7, silent: true, data: hostsDarkRed.concat(hostsRed, hostsDarkGreen, hostsGreen), encode: { x: 0, y: 1 },
    renderItem: function (params, api) {
      const e = api.value(2);
      if (!e) return null;
      return { type: 'group', children: errBar(api, api.value(0), api.value(1) - e, api.value(1) + e, '#333', 1, 6) };
    } },
  // error bars of faint hosts
  { type: 'custom', z: 7, silent: true, data: hostsOpen, encode: { x: 0, y: 1 },
    renderItem: function (params, api) {
      const m = api.value(1);
      return { type: 'group', children: errBar(api, api.value(0), m - api.value(2), m + api.value(3), '#444', 1.2, 6) };
    } },
  // upper-limit arrows
  { type: 'custom', z: 7, silent: true, data: hostsLimits, encode: { x: 0, y: 1 },
    renderItem: function (params, api) {
      const c = api.coord([api.value(0), api.value(1)]);
      const tip = c[1] + 37, col = '#333';
      return { type: 'group', children: [
        seg(c[0], c[1], c[0], tip, col, 1.2), seg(c[0] - 9, tip - 9, c[0], tip, col, 1.2), seg(c[0] + 9, tip - 9, c[0], tip, col, 1.2)
      ] };
    } },
  hosts(hostsDarkRed, '#7d0014'),
  hosts(hostsRed, '#ff0000'),
  hosts(hostsDarkGreen, '#006400'),
  hosts(hostsGreen, '#00c800'),
  { type: 'scatter', data: hostsOpen.map(p => [p[0], p[1]]).concat(hostsLimits), symbolSize: 19, z: 8, silent: true,
    itemStyle: { color: '#fff', opacity: 1, borderColor: '#444', borderWidth: 1.2 } },
  { type: 'scatter', data: notes, symbolSize: 1, z: 10, silent: true, itemStyle: { color: 'transparent' } }
];

const chart = echarts.init(document.getElementById('chart'), null, { renderer: 'canvas' });
chart.setOption({
  backgroundColor: 'transparent',
  animation: false,
  grid: { left: 148, top: 118, right: 66, bottom: 89, containLabel: false },
  xAxis: xAxes,
  yAxis: yAxes,
  series: series
});
</script>
</body>
</html>
